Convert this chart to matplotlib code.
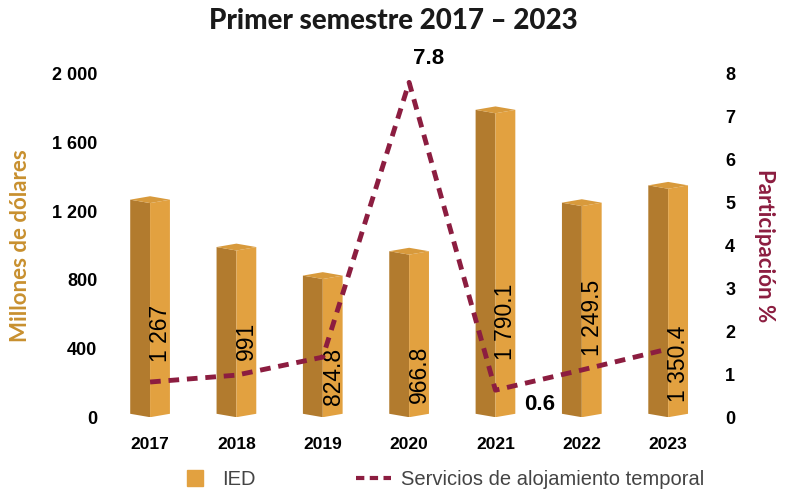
import numpy as np
import matplotlib.pyplot as plt
from matplotlib.lines import Line2D

# datos
anios = ["2017", "2018", "2019", "2020", "2021", "2022", "2023"]
ied = [1267, 991, 824.8, 966.8, 1790.1, 1249.5, 1350.4]
ied_txt = ["1 267", "991", "824.8", "966.8", "1 790.1", "1 249.5", "1 350.4"]
participacion = [0.82, 0.98, 1.4, 7.8, 0.63, 1.1, 1.59]

# posicion vertical de las etiquetas dentro de las barras (millones)
pos_etiqueta = [490, 443, 240, 250, 554, 577, 309]

oro_osc = "#B27B2E"
oro_cla = "#E2A140"
oro_top = "#D89A3C"
guinda = "#8C1D40"
sans = ["Liberation Sans", "DejaVu Sans"]

fig = plt.figure(figsize=(7.86, 4.92), dpi=100)
ax = fig.add_axes([0.136, 0.152, 0.769, 0.698])
ax2 = ax.twinx()

x = np.arange(len(anios))
w = 0.46
d = 20  # profundidad de la tapa

# barras tipo prisma
for xi, v in zip(x, ied):
    ax.fill([xi - w / 2, xi, xi, xi - w / 2], [d, 0, v - d, v], color=oro_osc, lw=0)
    ax.fill([xi, xi + w / 2, xi + w / 2, xi], [0, d, v, v - d], color=oro_cla, lw=0)
    ax.fill([xi - w / 2, xi, xi + w / 2, xi], [v, v + d, v, v - d], color=oro_top, lw=0)

for xi, t, yp in zip(x, ied_txt, pos_etiqueta):
    ax.text(xi + 0.12, yp, t, rotation=90, ha="center", va="center",
            fontsize=16.5, color="black", family=sans)

ax.set_xlim(-0.5, 6.5)
ax.set_ylim(0, 2000)
ax.set_yticks([0, 400, 800, 1200, 1600, 2000])
ax.set_yticklabels(["0", "400", "800", "1 200", "1 600", "2 000"])
ax.set_xticks(x)
ax.set_xticklabels(anios, family=sans, fontweight="bold", fontsize=12.5)
ax.tick_params(axis="x", length=0, pad=14)
ax.tick_params(axis="y", length=0, pad=7)
for lab in ax.get_yticklabels():
    lab.set_family(sans)
    lab.set_fontweight("bold")
    lab.set_fontsize(13)

# linea de participacion
ax2.plot(x, participacion, color=guinda, lw=3.5, ls=(0, (2.2, 1.6)))
ax2.set_ylim(0, 8)
ax2.set_yticks(range(9))
ax2.tick_params(axis="y", length=0, pad=10)
for lab in ax2.get_yticklabels():
    lab.set_family(sans)
    lab.set_fontweight("bold")
    lab.set_fontsize(13)

ax2.annotate("7.8", (x[3], participacion[3]), xytext=(14, 17), textcoords="offset points",
             ha="center", va="center", fontsize=16, fontweight="bold", family=sans)
ax2.annotate("0.6", (x[4], participacion[4]), xytext=(32, -10), textcoords="offset points",
             ha="center", va="center", fontsize=16, fontweight="bold", family=sans)

for a in (ax, ax2):
    for s in a.spines.values():
        s.set_visible(False)

fig.text(0.5, 0.958, "Primer semestre 2017 – 2023", ha="center", va="center",
         fontsize=20, fontweight="black", family=["Lato", "DejaVu Sans"], color="#1a1a1a")
fig.text(0.026, 0.5, "Millones de dólares", rotation=90, ha="center", va="center",
         fontsize=16, fontweight="bold", color="#C8902F", family=["Lato", "DejaVu Sans"])
fig.text(0.973, 0.5, "Participación %", rotation=270, ha="center", va="center",
         fontsize=16, fontweight="bold", color=guinda, family=["Lato", "DejaVu Sans"])

handles = [Line2D([], [], ls="none", marker="s", markersize=11, color=oro_cla),
           Line2D([], [], color=guinda, lw=3, ls=(0, (2, 1.3)))]
fig.legend(handles, ["IED", "Servicios de alojamiento temporal"], loc="center",
           bbox_to_anchor=(0.561, 0.025), ncol=2, frameon=False, columnspacing=5,
           handlelength=1.7, handletextpad=0.5, prop={"family": sans, "size": 14.5},
           labelcolor="#444444")

fig.savefig("out.png", dpi=100)
